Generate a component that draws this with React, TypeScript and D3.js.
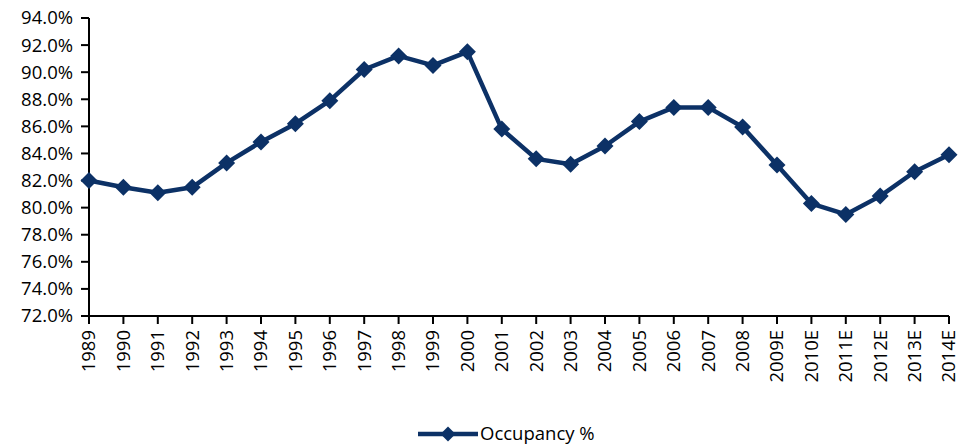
import React from "react";
import * as d3 from "d3";

const years = ["1989","1990","1991","1992","1993","1994","1995","1996","1997","1998","1999","2000","2001","2002","2003","2004","2005","2006","2007","2008","2009E","2010E","2011E","2012E","2013E","2014E"];
const occupancy = [82.0,81.5,81.1,81.5,83.3,84.85,86.2,87.9,90.2,91.2,90.5,91.5,85.8,83.6,83.2,84.55,86.35,87.4,87.4,85.95,83.15,80.3,79.5,80.85,82.65,83.9];
const yTicks = [72,74,76,78,80,82,84,86,88,90,92,94];
const seriesName = "Occupancy %";

const W = 959, H = 448;
const left = 89, right = 949, top = 18, bottom = 316;
const color = "#0c3166";
const font = "'Open Sans', 'Noto Sans', sans-serif";
const fs = 18.5;

export default function App() {
  const x = d3.scalePoint<string>().domain(years).range([left, right]);
  const y = d3.scaleLinear().domain([72, 94]).range([bottom, top]);
  const line = d3.line<number>().x((_, i) => x(years[i])!).y(d => y(d));
  const diamond = (cx: number, cy: number, r: number) => `M${cx},${cy - r}L${cx + r},${cy}L${cx},${cy + r}L${cx - r},${cy}Z`;
  return (
    <svg width={W} height={H} style={{ position: "absolute", left: 0, top: 0, fontFamily: font }}>
      <rect width={W} height={H} fill="white" />
      <line x1={left} x2={left} y1={top} y2={bottom} stroke="black" strokeWidth={2} />
      <line x1={left} x2={right} y1={bottom} y2={bottom} stroke="black" strokeWidth={2} />
      {yTicks.map(t => (
        <g key={t}>
          <line x1={left - 8} x2={left} y1={y(t)} y2={y(t)} stroke="black" strokeWidth={2} />
          <text x={left - 16} y={y(t)} dy="0.35em" textAnchor="end" fontSize={fs} fill="#000">{t.toFixed(1)}%</text>
        </g>
      ))}
      {years.map(yr => (
        <g key={yr}>
          <line x1={x(yr)!} x2={x(yr)!} y1={bottom} y2={bottom + 8} stroke="black" strokeWidth={2} />
          <text transform={`translate(${x(yr)!},${bottom + 14}) rotate(-90)`} dy="0.35em" textAnchor="end" fontSize={fs} fill="#000">{yr}</text>
        </g>
      ))}
      <path d={line(occupancy) || ""} fill="none" stroke={color} strokeWidth={4.5} strokeLinejoin="round" />
      {occupancy.map((v, i) => (
        <path key={i} d={diamond(x(years[i])!, y(v), 8.5)} fill={color} />
      ))}
      <g>
        <line x1={418} x2={478} y1={434} y2={434} stroke={color} strokeWidth={4.5} />
        <path d={diamond(448, 434, 7.5)} fill={color} />
        <text x={480} y={434} dy="0.35em" fontSize={fs} fill="#000">{seriesName}</text>
      </g>
    </svg>
  );
}
